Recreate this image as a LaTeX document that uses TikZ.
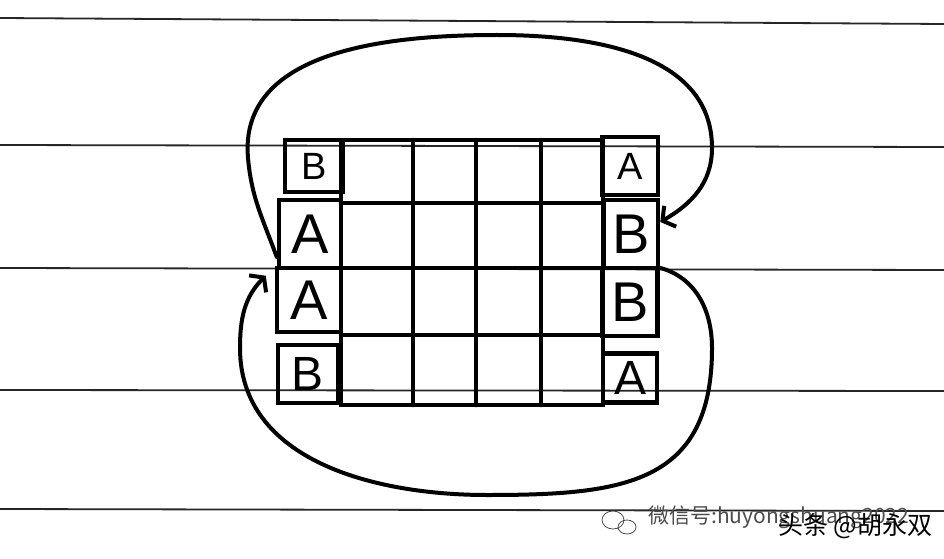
\documentclass[tikz,border=0pt]{standalone}
\usepackage{fontspec}
\setsansfont{Liberation Sans}
\newfontfamily\cjk{Noto Sans CJK SC}
\usetikzlibrary{arrows.meta}

\begin{document}
\begin{tikzpicture}[x=1pt,y=1pt,
    rule/.style={line width=1.8pt,black!85},
    grid/.style={line width=4.5pt,line cap=round},
    cell/.style={draw,line width=4.5pt,inner sep=0pt,font=\sffamily\fontsize{56}{56}\selectfont},
    small/.style={font=\sffamily\fontsize{38}{38}\selectfont},
    low/.style={font=\sffamily\fontsize{48}{48}\selectfont},
    loop/.style={line width=4pt,line cap=round,-{Straight Barb[length=9pt,width=24pt]}},
    wmk/.style={black!70,line width=0.8pt}]
  \useasboundingbox (0,0) rectangle (944,558);
  \fill[white] (0,0) rectangle (944,558);
  % ruled paper
  \draw[rule] (0,540) -- (944,534);
  \draw[rule] (0,413) -- (944,411);
  \draw[rule] (0,290) -- (944,288);
  \draw[rule] (0,168) -- (944,167);
  \draw[rule] (0,49) -- (944,47);
  % inner grid
  \draw[grid] (341,418) rectangle (603,153);
  \draw[grid] (413,418) -- (413,153);
  \draw[grid] (476,418) -- (476,153);
  \draw[grid] (541,418) -- (541,153);
  \draw[grid] (341,355) -- (603,355);
  \draw[grid] (341,290) -- (603,290);
  \draw[grid] (341,223) -- (603,223);
  % edge cells
  \node[cell,small,minimum width=58pt,minimum height=52pt] (lb1) at (314,392) {B};
  \node[cell,minimum width=62pt,minimum height=68pt] (la2) at (310,324) {A};
  \node[cell,minimum width=64pt,minimum height=64pt] (la3) at (309,258) {A};
  \node[cell,low,minimum width=60pt,minimum height=58pt] (lb4) at (308,184) {B};
  \node[cell,small,minimum width=56pt,minimum height=58pt] (ra1) at (630,392) {A};
  \node[cell,minimum width=54pt,minimum height=68pt] (rb2) at (631,324) {B};
  \node[cell,minimum width=55pt,minimum height=68pt] (rb3) at (630,256) {B};
  \node[cell,low,minimum width=54pt,minimum height=49pt] (ra4) at (630,180) {A};
  % swaps
  \draw[loop] ([yshift=-23pt]la2.west) to[out=110,in=-85] (248,400)
    to[out=95,in=180] (497,523) to[out=0,in=90] (712,410)
    to[out=-90,in=30] ([yshift=12pt]rb2.east);
  \draw[loop] ([yshift=-2pt]rb3.north east) to[out=-15,in=90] (712,210)
    to[out=-90,in=0,looseness=1.3] (487,63) to[out=180,in=-90] (240,210)
    to[out=90,in=225] ([shift={(-9pt,-10pt)}]la3.north west);
  % watermark
  \draw[wmk] (613,38) ellipse (11pt and 9pt);
  \draw[wmk] (627,31) ellipse (9pt and 7pt);
  \node[anchor=west,black!70,inner sep=0pt] (wx) at (648,41)
    {\cjk\fontsize{21}{21}\selectfont 微信号:huyongshuang2022};
  \node[anchor=west,inner sep=0pt] (tt) at (778,32)
    {\cjk\fontsize{25}{25}\selectfont 头条 @胡永双};
\end{tikzpicture}
\end{document}
